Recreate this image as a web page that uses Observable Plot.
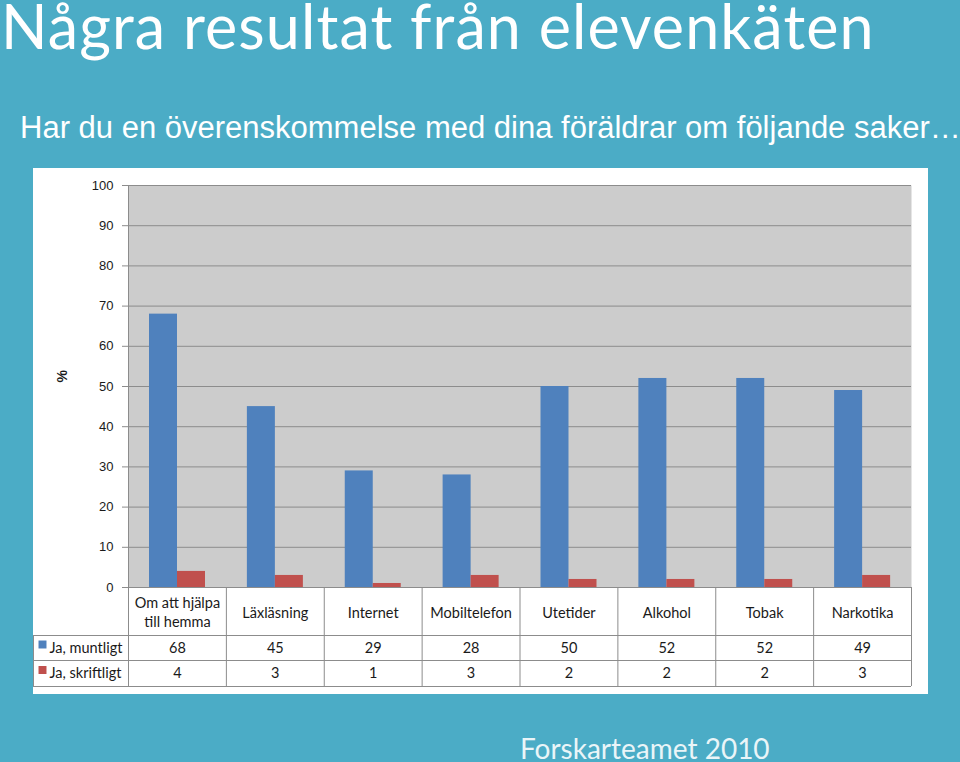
<!DOCTYPE html>
<html>
<head>
<meta charset="utf-8">
<script src="https://cdn.jsdelivr.net/npm/d3@7"></script>
<script src="https://cdn.jsdelivr.net/npm/@observablehq/plot@0.6"></script>
<style>
html, body { margin: 0; padding: 0; }
body { width: 960px; height: 762px; overflow: hidden; background: #4BACC6; position: relative; font-family: Lato, "Open Sans", sans-serif; }
#title { position: absolute; left: 1px; top: 2px; font-size: 61px; letter-spacing: 1.1px; line-height: 0.8; color: #fff; white-space: nowrap; }
#subtitle { position: absolute; left: 20px; top: 112px; font-family: "Liberation Sans", Arial, sans-serif; font-size: 31px; line-height: 1; color: #fff; white-space: nowrap; }
#panel { position: absolute; left: 33px; top: 168px; width: 895px; height: 526px; background: #fff; }
#footer { position: absolute; left: 520px; top: 737px; font-size: 28px; line-height: 0.8; color: #EAF5F8; white-space: nowrap; }
</style>
</head>
<body>
<div id="title">Några resultat från elevenkäten</div>
<div id="subtitle">Har du en överenskommelse med dina föräldrar om följande saker…</div>
<div id="panel"></div>
<div id="footer">Forskarteamet 2010</div>
<script>
const categories = ["Om att hjälpa\ntill hemma", "Läxläsning", "Internet", "Mobiltelefon", "Utetider", "Alkohol", "Tobak", "Narkotika"];
const seriesNames = ["Ja, muntligt", "Ja, skriftligt"];
const muntligt = [68, 45, 29, 28, 50, 52, 52, 49];
const skriftligt = [4, 3, 1, 3, 2, 2, 2, 3];
const yTicks = [0, 10, 20, 30, 40, 50, 60, 70, 80, 90, 100];
const seriesColors = ["#4F81BD", "#C0504D"];

const values = [muntligt, skriftligt];
const rows = categories.flatMap((c, i) => seriesNames.map((s, k) => ({category: c, series: s, value: values[k][i]})));

const W = 895, H = 526, ML = 95, MR = 17, MT = 17, MB = 107;
const step = (W - ML - MR) / categories.length;
const half = step / 2;
const lineColor = "#8C8C8C";
const tableFont = "Lato, 'Open Sans', sans-serif";
const textColor = "#1a1a1a";
// table row geometry (pixels below the zero line)
const headerH = 48, row1Bottom = 73, row2Bottom = 99;
const rowCenters = [60.5, 86];

const tableMarks = [
  Plot.ruleY([0], {stroke: lineColor}),
  ...[headerH, row1Bottom, row2Bottom].map(dy => Plot.ruleY([0], {dy, insetLeft: -ML, stroke: lineColor})),
  Plot.ruleX(categories, {x: d => d, y1: () => 0, y2: () => 0, dx: -half, insetBottom: -row2Bottom, stroke: lineColor}),
  Plot.ruleX([categories[categories.length - 1]], {x: d => d, y1: () => 0, y2: () => 0, dx: half, insetBottom: -row2Bottom, stroke: lineColor}),
  Plot.ruleX([categories[0]], {x: d => d, y1: () => 0, y2: () => 0, dx: -half - ML, insetTop: headerH, insetBottom: -row2Bottom, stroke: lineColor}),
  Plot.text(categories, {x: d => d, y: () => 0, dy: headerH / 2, text: d => d, fontFamily: tableFont, fontSize: 14.5, lineHeight: 1.34, fill: textColor}),
  ...seriesNames.flatMap((s, k) => [
    Plot.text(rows.filter(d => d.series === s), {x: "category", y: () => 0, dy: rowCenters[k], text: d => String(d.value), fontFamily: tableFont, fontSize: 14.5, fill: textColor}),
    Plot.dot([s], {x: () => categories[0], y: () => 0, dx: -half - 86, dy: rowCenters[k] - 3.5, symbol: "square", r: 4.5, fill: seriesColors[k], stroke: null}),
    Plot.text([s], {x: () => categories[0], y: () => 0, dx: -half - 79, dy: rowCenters[k], text: d => d, textAnchor: "start", fontFamily: tableFont, fontSize: 14.5, fill: textColor})
  ])
];

const chart = Plot.plot({
  width: W, height: H,
  marginLeft: ML, marginRight: MR, marginTop: MT, marginBottom: MB,
  style: {fontFamily: "'Liberation Sans', Arial, sans-serif", fontSize: "13px", color: textColor, background: "#fff", overflow: "visible"},
  x: {type: "band", domain: categories, padding: 0, round: false, axis: null},
  y: {domain: [0, 100], axis: null},
  color: {domain: seriesNames, range: seriesColors},
  marks: [
    Plot.frame({fill: "#CCCCCC", stroke: null}),
    Plot.gridY(yTicks, {stroke: lineColor, strokeOpacity: 1}),
    Plot.barY(rows.filter(d => d.series === seriesNames[0]), {x: "category", y: "value", fill: "series", insetLeft: 21, insetRight: step - 49}),
    Plot.barY(rows.filter(d => d.series === seriesNames[1]), {x: "category", y: "value", fill: "series", insetLeft: 49, insetRight: step - 77}),
    Plot.ruleX([categories[0]], {x: d => d, y1: () => 0, y2: () => 100, dx: -half, stroke: lineColor}),
    Plot.axisY(yTicks, {tickSize: 6, tickPadding: 9, stroke: lineColor, fill: textColor, fontSize: 13, label: null}),
    Plot.text(["%"], {frameAnchor: "left", dx: -66, dy: -4, rotate: -90, text: d => d, fontSize: 14, fontWeight: "bold", fill: textColor}),
    ...tableMarks
  ]
});
document.getElementById("panel").appendChild(chart);
</script>
</body>
</html>
